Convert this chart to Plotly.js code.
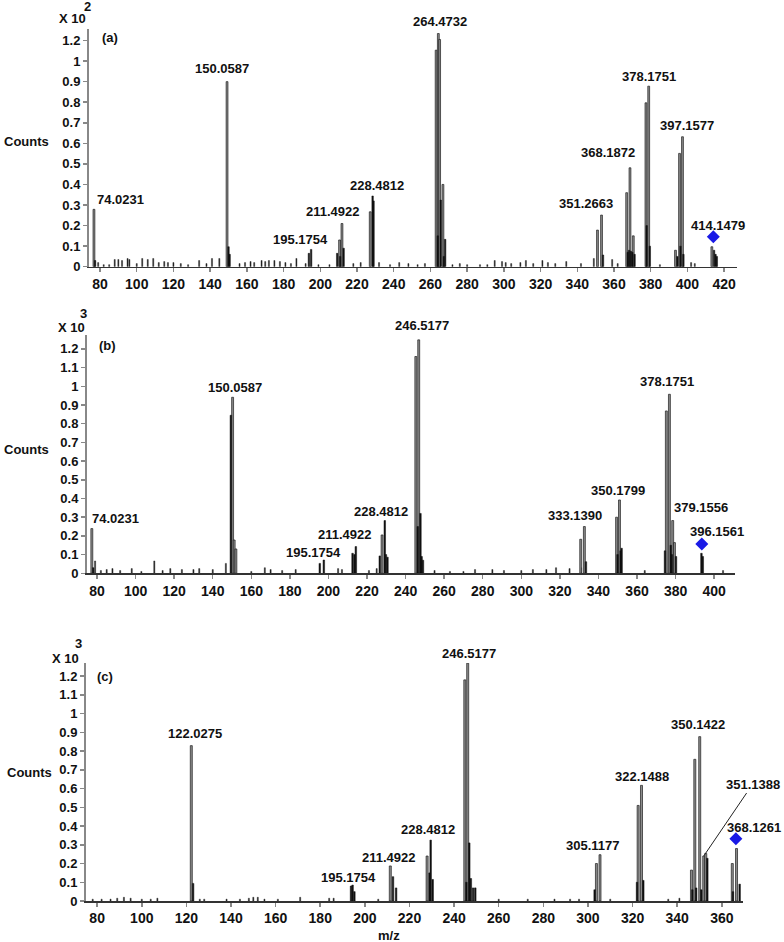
<!DOCTYPE html>
<html>
<head>
<meta charset="utf-8">
<script src="https://cdn.plot.ly/plotly-3.0.1.min.js"></script>
<style>html,body{margin:0;padding:0;background:#fff;}#chart{width:784px;height:942px;}</style>
</head>
<body>
<div id="chart"></div>
<script>
// ---------- DATA (intensities in axis units) ----------
// Panel (a)  (x 10^2 counts)
const aMajorMz  = [76.7, 149.2, 210.5, 211.8, 227.2, 263.1, 264.3, 265.0, 266.8, 351.0, 353.2, 366.9, 368.7, 370.5, 377.4, 378.9, 393.5, 395.7, 397.3, 413.3];
const aMajorInt = [0.279, 0.90, 0.13, 0.21, 0.267, 1.053, 1.134, 1.105, 0.40, 0.178, 0.251, 0.36, 0.481, 0.15, 0.797, 0.878, 0.08, 0.551, 0.632, 0.097];
const aMinorMz  = [77.3, 150.0, 150.6, 193.8, 195.0, 209.2, 210.8, 212.7, 228.5, 229.0, 264.0, 265.6, 267.3, 268.0, 354.0, 367.5, 368.2, 369.2, 370.0, 371.2, 377.8, 379.5, 394.5, 396.2, 397.8, 414.5, 415.3, 416.0];
const aMinorInt = [0.03, 0.097, 0.06, 0.065, 0.084, 0.065, 0.05, 0.09, 0.344, 0.32, 0.15, 0.324, 0.05, 0.133, 0.057, 0.07, 0.08, 0.075, 0.07, 0.06, 0.2, 0.1, 0.05, 0.1, 0.06, 0.08, 0.06, 0.05];
const aNoiseMz  = [79, 82, 85, 88, 90, 92, 95, 96, 100, 103, 106, 109, 112, 115, 117, 120, 124, 128, 134, 138, 141, 145, 156, 159, 162, 164, 168, 170, 172, 175, 178, 181, 184, 187, 192, 199, 205, 218, 222, 232, 238, 243, 248, 253, 257, 272, 276, 280, 287, 291, 295, 299, 301, 304, 309, 312, 316, 321, 324, 328, 334, 342, 349, 359, 362, 385, 402, 404];
const aNoiseInt = [0.02, 0.01, 0.01, 0.035, 0.035, 0.03, 0.04, 0.035, 0.015, 0.04, 0.035, 0.04, 0.02, 0.025, 0.02, 0.02, 0.015, 0.01, 0.03, 0.015, 0.04, 0.04, 0.015, 0.02, 0.025, 0.02, 0.03, 0.025, 0.03, 0.03, 0.025, 0.02, 0.015, 0.04, 0.015, 0.01, 0.01, 0.015, 0.02, 0.02, 0.01, 0.02, 0.015, 0.01, 0.015, 0.01, 0.015, 0.01, 0.01, 0.01, 0.03, 0.025, 0.02, 0.015, 0.02, 0.03, 0.015, 0.03, 0.02, 0.015, 0.025, 0.015, 0.04, 0.035, 0.015, 0.01, 0.02, 0.015];
const aPrecursor = {mz: [414.1], int: [0.146]};
const aLabels = ["74.0231", "150.0587", "195.1754", "211.4922", "228.4812", "264.4732", "351.2663", "368.1872", "378.1751", "397.1577", "414.1479"];
const aTickVals = [0, 0.1, 0.2, 0.3, 0.4, 0.5, 0.6, 0.7, 0.8, 0.9, 1, 1.1];
const aTickText = ["0", "0.1", "0.2", "0.3", "0.4", "0.5", "0.6", "0.7", "0.8", "0.9", "1", "1.2"];

// Panel (b)  (x 10^3 counts)
const bMajorMz  = [77.3, 150.3, 151.1, 152.0, 227.8, 245.3, 246.8, 330.8, 332.7, 349.4, 350.9, 375.2, 376.8, 378.5, 379.4];
const bMajorInt = [0.239, 0.941, 0.178, 0.13, 0.205, 1.159, 1.248, 0.182, 0.25, 0.30, 0.392, 0.868, 0.957, 0.282, 0.164];
const bMinorMz  = [78.0, 149.4, 195.5, 197.6, 212.5, 213.5, 214.2, 226.6, 229.2, 229.8, 230.6, 246.3, 247.7, 248.3, 249.0, 333.5, 349.9, 351.5, 352.0, 374.5, 377.5, 378.0, 380.2, 393.4, 394.1];
const bMinorInt = [0.03, 0.845, 0.053, 0.071, 0.107, 0.10, 0.143, 0.093, 0.282, 0.10, 0.086, 0.25, 0.32, 0.09, 0.07, 0.062, 0.10, 0.12, 0.134, 0.12, 0.15, 0.10, 0.09, 0.107, 0.09];
const bNoiseMz  = [79, 82, 85, 88, 92, 98, 103, 109.7, 114, 118, 124, 130, 133, 140, 146.8, 160, 167, 170, 176, 183, 205, 207, 221, 225, 255, 263, 270, 276, 285, 291, 300, 306, 313, 318, 325, 331, 364, 404.6];
const bNoiseInt = [0.066, 0.015, 0.02, 0.025, 0.015, 0.025, 0.01, 0.066, 0.015, 0.025, 0.02, 0.02, 0.025, 0.02, 0.053, 0.01, 0.03, 0.02, 0.015, 0.02, 0.025, 0.02, 0.015, 0.025, 0.015, 0.01, 0.01, 0.02, 0.02, 0.015, 0.015, 0.02, 0.02, 0.03, 0.025, 0.03, 0.015, 0.015];
const bPrecursor = {mz: [393.6], int: [0.157]};
const bLabels = ["74.0231", "150.0587", "195.1754", "211.4922", "228.4812", "246.5177", "333.1390", "350.1799", "378.1751", "379.1556", "396.1561"];

// Panel (c)  (x 10^3 counts)
const cMajorMz  = [122.2, 211.4, 227.9, 244.8, 246.1, 303.8, 305.4, 322.5, 324.0, 346.4, 347.9, 350.1, 351.9, 352.8, 364.7, 366.6];
const cMajorInt = [0.829, 0.187, 0.24, 1.18, 1.269, 0.20, 0.247, 0.51, 0.617, 0.165, 0.756, 0.877, 0.24, 0.254, 0.20, 0.28];
const cMinorMz  = [123.0, 193.8, 194.5, 195.3, 212.6, 214.0, 229.0, 229.5, 230.4, 245.5, 246.8, 247.5, 248.5, 249.5, 303.0, 322.0, 324.8, 346.8, 348.5, 350.8, 353.5, 365.0, 368.0];
const cMinorInt = [0.094, 0.08, 0.085, 0.05, 0.13, 0.07, 0.15, 0.325, 0.115, 0.10, 0.31, 0.12, 0.07, 0.07, 0.06, 0.10, 0.11, 0.06, 0.07, 0.06, 0.228, 0.05, 0.09];
const cNoiseMz  = [78, 82, 86, 89, 92, 95, 100, 104, 107, 126, 128, 138, 144, 148, 150, 152, 155, 161, 171, 184, 186, 206, 260, 273, 285, 292, 296, 310, 336, 341];
const cNoiseInt = [0.01, 0.01, 0.01, 0.015, 0.02, 0.015, 0.01, 0.01, 0.015, 0.01, 0.01, 0.01, 0.01, 0.015, 0.02, 0.02, 0.01, 0.01, 0.02, 0.015, 0.015, 0.01, 0.01, 0.01, 0.01, 0.01, 0.01, 0.01, 0.01, 0.015];
const cPrecursor = {mz: [366.3], int: [0.332]};
const cLabels = ["122.0275", "195.1754", "211.4922", "228.4812", "246.5177", "305.1177", "322.1488", "350.1422", "351.1388", "368.1261"];

const bcTickVals = [0, 0.1, 0.2, 0.3, 0.4, 0.5, 0.6, 0.7, 0.8, 0.9, 1, 1.1, 1.2];
const bcTickText = ["0", "0.1", "0.2", "0.3", "0.4", "0.5", "0.6", "0.7", "0.8", "0.9", "1", "1.1", "1.2"];

// ---------- LAYOUT / STYLE ----------
const W = 784, H = 942;
const FONT = "Liberation Sans, Arial, sans-serif";
const px = (x) => x / W;
const py = (y) => 1 - y / H;

// label pixel positions (text centres) - styling only
const aLabelPos = [[120,199],[222,69],[300,239],[333,212],[377,185],[440,22],[586,203],[608,153],[649,77],[687,126],[718,226]];
const bLabelPos = [[115,518],[235,387],[313,552],[345,534],[381,511],[422,326],[575,515],[618,490],[667,381],[701,507],[717,531]];
const cLabelPos = [[195,733],[348,877],[389,857],[428,829],[469,653],[593,845],[642,776],[698,724],[751,783],[754,827]];

function bars(mz, it, xa, ya, color, lineColor, lw, w) {
  return {type: 'bar', x: mz, y: it, xaxis: xa, yaxis: ya, width: w,
    marker: {color: color, line: {color: lineColor, width: lw}}, hoverinfo: 'skip', showlegend: false};
}
function diamond(p, xa, ya) {
  return {type: 'scatter', mode: 'markers', x: p.mz, y: p.int, xaxis: xa, yaxis: ya,
    marker: {symbol: 'diamond', size: 10, color: '#1a1ae6'}, hoverinfo: 'skip', showlegend: false, cliponaxis: false};
}

const data = [
  bars(aNoiseMz, aNoiseInt, 'x', 'y', '#222', '#222', 0.4, 0.6),
  bars(aMajorMz, aMajorInt, 'x', 'y', '#8c8c8c', '#1e1e1e', 0.7, 1.0),
  bars(aMinorMz, aMinorInt, 'x', 'y', '#111', '#111', 0.5, 0.8),
  diamond(aPrecursor, 'x', 'y'),
  bars(bNoiseMz, bNoiseInt, 'x2', 'y2', '#222', '#222', 0.4, 0.6),
  bars(bMajorMz, bMajorInt, 'x2', 'y2', '#8c8c8c', '#1e1e1e', 0.7, 1.0),
  bars(bMinorMz, bMinorInt, 'x2', 'y2', '#111', '#111', 0.5, 0.8),
  diamond(bPrecursor, 'x2', 'y2'),
  bars(cNoiseMz, cNoiseInt, 'x3', 'y3', '#222', '#222', 0.4, 0.5),
  bars(cMajorMz, cMajorInt, 'x3', 'y3', '#8c8c8c', '#1e1e1e', 0.7, 0.9),
  bars(cMinorMz, cMinorInt, 'x3', 'y3', '#111', '#111', 0.5, 0.7),
  diamond(cPrecursor, 'x3', 'y3')
];

function xax(d, r, anchor) {
  return {domain: [px(d[0]), px(d[1])], range: r, anchor: anchor, tick0: 0, dtick: 20,
    showgrid: false, zeroline: false, showline: true, linecolor: '#333', linewidth: 1.5,
    ticks: 'outside', ticklen: 4, tickcolor: '#888', tickwidth: 1.5, automargin: false,
    tickfont: {family: FONT, size: 14, color: '#111', weight: 'bold'}, fixedrange: true};
}
function yax(d, r, anchor, tv, tt) {
  return {domain: [py(d[1]), py(d[0])], range: r, anchor: anchor, tickmode: 'array', tickvals: tv, ticktext: tt,
    showgrid: false, zeroline: false, showline: true, linecolor: '#888', linewidth: 2,
    ticks: 'outside', ticklen: 4, tickcolor: '#888', tickwidth: 1.5, automargin: false,
    tickfont: {family: FONT, size: 13, color: '#111', weight: 'bold'}, fixedrange: true};
}

const annotations = [];
function txt(s, x, y, size, extra) {
  annotations.push(Object.assign({text: s, x: px(x), y: py(y), xref: 'paper', yref: 'paper',
    xanchor: 'center', yanchor: 'middle', showarrow: false,
    font: {family: FONT, size: size, color: '#111', weight: 'bold'}}, extra || {}));
}
aLabels.forEach((s, i) => txt(s, aLabelPos[i][0], aLabelPos[i][1], 13));
bLabels.forEach((s, i) => { if (true) txt(s, bLabelPos[i][0], bLabelPos[i][1], 13); });
cLabels.forEach((s, i) => { if (s !== "351.1388") txt(s, cLabelPos[i][0], cLabelPos[i][1], 13); });
// 351.1388 with leader line to its peak (index 12 of cMajor)
annotations.push({text: "351.1388", x: cMajorMz[12], y: cMajorInt[12], xref: 'x3', yref: 'y3',
  showarrow: true, arrowhead: 0, arrowwidth: 1, arrowcolor: '#222', ax: 49, ay: -72,
  font: {family: FONT, size: 13, color: '#111', weight: 'bold'}});

// panel letters, counts labels, multipliers
txt("(a)", 110, 38, 13); txt("(b)", 107, 345, 13); txt("(c)", 105, 676, 13);
txt("Counts", 27, 142, 13); txt("Counts", 26, 449, 13); txt("Counts", 29, 772, 13);
txt("X 10", 72, 19, 13); txt("2", 87, 7, 13);
txt("X 10", 71, 328, 13); txt("3", 83, 313, 13);
txt("X 10", 65, 658, 13); txt("3", 78, 643, 13);
txt("m/z", 389, 935, 13);

const layout = {
  width: W, height: H, margin: {l: 0, r: 0, t: 0, b: 0}, paper_bgcolor: '#fff', plot_bgcolor: '#fff',
  barmode: 'overlay', showlegend: false,
  xaxis: xax([89, 737], [74, 427], 'y'),
  yaxis: yax([29, 266.7], [0, 1.156], 'x', aTickVals, aTickText),
  xaxis2: xax([87, 735], [74.8, 410.8], 'y2'),
  yaxis2: yax([335, 573.3], [0, 1.274], 'x2', bcTickVals, bcTickText),
  xaxis3: xax([86, 743], [75, 369.5], 'y3'),
  yaxis3: yax([663, 901], [0, 1.27], 'x3', bcTickVals, bcTickText),
  annotations: annotations
};

Plotly.newPlot('chart', data, layout, {staticPlot: true, displayModeBar: false});
</script>
</body>
</html>
